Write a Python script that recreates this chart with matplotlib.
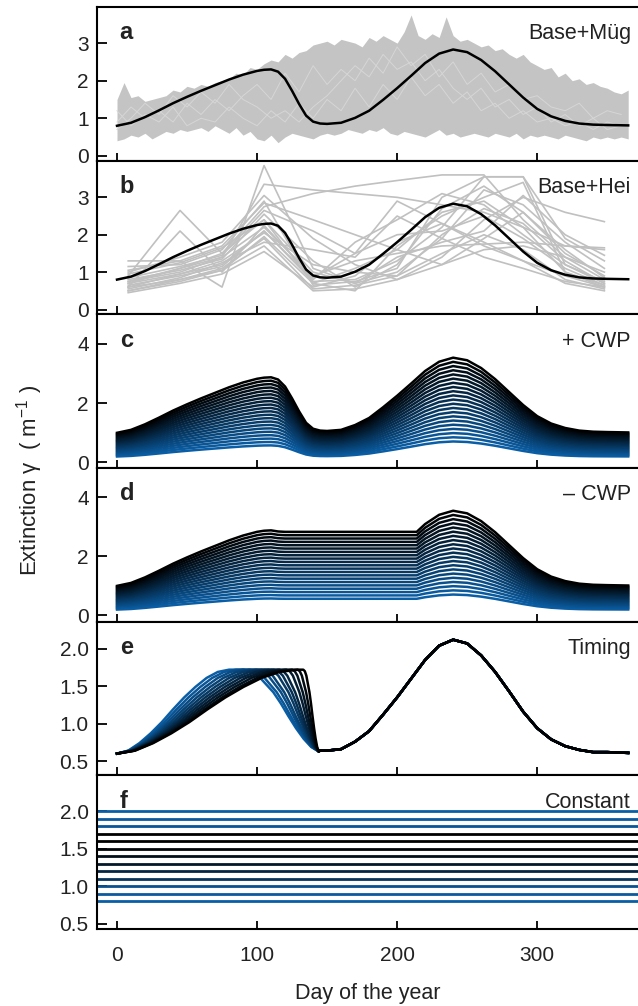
import numpy as np
import matplotlib.pyplot as plt

plt.rcParams['font.family'] = ['Liberation Sans', 'DejaVu Sans']
plt.rcParams['mathtext.fontset'] = 'custom'
plt.rcParams['mathtext.rm'] = 'Liberation Sans'
plt.rcParams['mathtext.default'] = 'regular'

# base extinction curve (black line in a and b)
base_days = [0, 10, 20, 30, 40, 50, 60, 70, 80, 90, 100, 105, 110, 115, 120, 125, 130, 135, 140,
             145, 150, 160, 170, 180, 190, 200, 210, 220, 230, 240, 250, 260, 270, 280, 290, 300,
             310, 320, 330, 340, 350, 365]
base_vals = [0.80, 0.88, 1.03, 1.21, 1.40, 1.57, 1.73, 1.88, 2.03, 2.16, 2.26, 2.29, 2.30, 2.24,
             2.05, 1.73, 1.38, 1.07, 0.91, 0.86, 0.85, 0.88, 1.01, 1.20, 1.49, 1.80, 2.13, 2.47,
             2.72, 2.83, 2.76, 2.55, 2.25, 1.90, 1.55, 1.25, 1.05, 0.93, 0.86, 0.83, 0.82, 0.81]

# base curve with the spring dip removed (panel d)
flat_days = [0, 10, 20, 30, 40, 50, 60, 70, 80, 90, 100, 105, 110, 115, 120, 214, 220, 230, 240,
             250, 260, 270, 280, 290, 300, 310, 320, 330, 340, 350, 365]
flat_vals = [0.80, 0.88, 1.03, 1.21, 1.40, 1.57, 1.73, 1.88, 2.03, 2.16, 2.26, 2.29, 2.30, 2.27,
             2.26, 2.26, 2.47, 2.72, 2.83, 2.76, 2.55, 2.25, 1.90, 1.55, 1.25, 1.05, 0.93, 0.86,
             0.83, 0.82, 0.81]

# scale factors for the +CWP / -CWP ensembles
cwp_factors = [0.25, 0.30, 0.35, 0.40, 0.45, 0.50, 0.55, 0.60, 0.65, 0.70, 0.75, 0.80, 0.85,
               0.90, 0.95, 1.00, 1.05, 1.10, 1.15, 1.20, 1.25]

# Mueggelsee envelope of daily series (panel a), every 5 days
mug_days = list(range(0, 365, 5)) + [365]
mug_upper = [1.50, 1.95, 1.55, 1.60, 1.45, 1.50, 1.55, 1.60, 1.75, 1.70, 1.85,
             1.80, 1.90, 1.85, 1.95, 2.00, 2.05, 2.20, 2.15, 2.35, 2.30,
             2.45, 2.55, 2.50, 2.70, 2.60, 2.75, 2.80, 2.95, 3.00, 3.05,
             2.95, 3.10, 3.05, 3.00, 2.90, 3.15, 3.05, 3.20, 3.10, 3.00,
             3.30, 3.75, 3.20, 3.10, 3.25, 3.15, 3.70, 3.20, 3.05, 3.10,
             3.00, 2.90, 2.95, 2.80, 2.85, 2.70, 2.60, 2.70, 2.50, 2.40,
             2.30, 2.35, 2.10, 2.20, 2.00, 2.05, 1.90, 1.95, 1.85, 1.80, 1.70, 1.65, 1.75]
mug_lower = [0.40, 0.45, 0.55, 0.50, 0.60, 0.45, 0.55, 0.65, 0.60, 0.70, 0.65,
             0.70, 0.75, 0.65, 0.80, 0.70, 0.60, 0.75, 0.55, 0.65, 0.45,
             0.40, 0.55, 0.35, 0.50, 0.60, 0.55, 0.50, 0.45, 0.55, 0.60,
             0.55, 0.60, 0.70, 0.65, 0.60, 0.70, 0.65, 0.75, 0.60, 0.55,
             0.65, 0.60, 0.55, 0.50, 0.60, 0.70, 0.55, 0.60, 0.50, 0.55,
             0.60, 0.55, 0.50, 0.60, 0.55, 0.50, 0.60, 0.45, 0.55, 0.50,
             0.55, 0.50, 0.45, 0.55, 0.50, 0.45, 0.40, 0.50, 0.45, 0.50, 0.45, 0.50, 0.45]
# a few individual daily series that show through the envelope (every 10 days)
mug_line_days = list(range(0, 370, 10))
mug_lines = [
    [0.9, 1.3, 1.0, 1.2, 0.9, 1.4, 1.1, 1.5, 1.2, 1.6, 1.9, 1.5, 2.2, 1.7, 2.4, 1.9, 2.3, 2.0,
     2.6, 2.2, 2.9, 2.4, 2.7, 2.1, 2.5, 1.9, 2.2, 1.7, 1.9, 1.5, 1.6, 1.3, 1.2, 1.4, 1.0, 1.2, 1.1],
    [1.2, 0.8, 1.1, 0.9, 1.3, 0.8, 1.0, 0.9, 1.3, 1.0, 0.8, 1.2, 0.9, 1.4, 1.0, 1.5, 1.2, 1.8,
     1.3, 1.9, 1.5, 2.1, 1.6, 1.9, 1.4, 1.7, 1.2, 1.4, 1.0, 1.2, 0.9, 1.0, 0.8, 0.9, 0.7, 0.9, 0.8],
    [0.7, 1.0, 1.4, 1.1, 1.6, 1.3, 1.7, 1.4, 1.9, 1.5, 1.3, 1.0, 1.2, 0.9, 1.3, 1.6, 2.0, 2.4,
     2.1, 2.7, 2.3, 2.5, 2.0, 2.3, 1.8, 1.5, 1.8, 1.3, 1.5, 1.1, 1.3, 0.9, 1.1, 0.8, 1.0, 0.7, 0.8],
]

# Heiligensee sampled series (panel b)
hei_days = [8, 45, 75, 105, 140, 170, 200, 232, 262, 290, 320, 348]
hei_series = [
    [0.60, 0.95, 1.20, 2.10, 0.75, 0.80, 1.30, 2.20, 3.55, 3.55, 1.20, 0.70],
    [0.90, 2.65, 1.50, 2.40, 0.70, 1.10, 1.60, 2.60, 2.90, 2.20, 1.00, 0.60],
    [1.30, 1.30, 0.60, 3.85, 1.10, 0.70, 1.00, 1.90, 3.20, 2.80, 1.80, 1.10],
    [0.50, 0.80, 1.10, 1.90, 0.55, 0.65, 0.90, 1.50, 2.00, 1.60, 0.80, 0.55],
    [0.70, 1.10, 1.50, 2.75, 3.10, 3.30, 3.45, 3.60, 3.60, 2.40, 1.40, 0.80],
    [1.00, 1.40, 1.80, 3.05, 1.90, 1.20, 0.80, 1.40, 2.40, 3.00, 2.60, 2.35],
    [0.45, 0.70, 0.95, 1.55, 0.60, 0.90, 1.80, 2.30, 1.80, 1.30, 0.70, 0.50],
    [0.80, 1.05, 1.35, 2.55, 1.30, 0.60, 1.20, 2.70, 3.30, 2.60, 1.50, 0.90],
    [0.60, 2.10, 1.00, 2.25, 0.85, 1.50, 2.00, 2.10, 2.50, 1.90, 1.10, 0.65],
    [1.15, 1.20, 1.60, 2.90, 0.65, 0.75, 1.10, 3.00, 3.55, 3.55, 1.90, 1.30],
    [0.55, 0.85, 1.25, 1.80, 1.60, 1.40, 2.50, 1.90, 1.40, 1.10, 0.75, 0.60],
    [0.75, 1.00, 1.40, 3.35, 3.20, 3.10, 3.00, 2.80, 2.60, 2.20, 1.70, 1.65],
    [0.65, 0.90, 1.15, 2.10, 0.80, 1.80, 2.40, 3.10, 2.80, 2.00, 1.20, 0.75],
    [0.85, 1.15, 1.45, 2.65, 2.10, 1.50, 2.90, 2.30, 1.70, 1.30, 0.90, 0.60],
    [0.50, 0.75, 1.05, 1.70, 0.50, 0.55, 0.80, 1.20, 1.60, 1.70, 1.40, 1.00],
    [0.95, 1.25, 1.65, 2.40, 1.00, 0.70, 1.40, 1.80, 2.10, 3.05, 2.00, 1.45],
    [0.70, 0.95, 1.30, 2.05, 1.20, 1.00, 0.90, 2.00, 2.70, 2.30, 1.30, 0.70],
    [0.60, 0.80, 1.05, 1.95, 0.70, 0.50, 1.70, 2.50, 3.00, 3.40, 1.00, 0.65],
    [1.05, 1.30, 1.70, 2.85, 2.40, 2.00, 1.60, 1.20, 1.90, 2.60, 1.60, 0.85],
    [0.75, 1.10, 1.40, 2.20, 0.90, 1.30, 1.50, 1.70, 1.75, 1.80, 1.70, 1.60],
]

# timing ensemble (panel e)
rise_frac = [0.0, 0.1, 0.2, 0.3, 0.4, 0.5, 0.6, 0.7, 0.8, 0.9, 1.0]
rise_vals = [0.60, 0.64, 0.74, 0.87, 1.02, 1.19, 1.35, 1.49, 1.61, 1.69, 1.72]
fall_frac = [0.0, 0.1, 0.2, 0.3, 0.4, 0.5, 0.6, 0.7, 0.8, 0.9, 1.0]
fall_vals = [1.72, 1.70, 1.64, 1.53, 1.42, 1.27, 1.10, 0.94, 0.80, 0.69, 0.63]
e_rise_end = [80, 85, 90, 95, 100, 105, 110, 115, 120, 125, 129]
e_fall_start = [90, 94, 99, 103, 108, 112, 116, 121, 125, 129, 133]
e_fall_end = 144
e_tail_days = [145, 150, 160, 170, 180, 190, 200, 210, 220, 230, 240, 250, 260, 270, 280,
               290, 300, 310, 320, 330, 340, 350, 365]
e_tail_vals = [0.64, 0.64, 0.66, 0.76, 0.90, 1.12, 1.35, 1.60, 1.85, 2.04, 2.12, 2.07, 1.91,
               1.69, 1.43, 1.16, 0.94, 0.79, 0.70, 0.65, 0.62, 0.62, 0.61]

# constant ensemble (panel f) and its colour position (0 blue, 1 black)
const_vals = [0.8, 0.9, 1.0, 1.1, 1.2, 1.3, 1.4, 1.5, 1.6, 1.7, 1.8, 1.9, 2.0]
const_shade = [0.0, 0.05, 0.15, 0.45, 0.6, 0.75, 0.85, 0.95, 1.0, 1.0, 0.1, 0.05, 0.0]

blue = np.array([0.04, 0.37, 0.65])
def shade(t):
    return tuple((1 - t) * blue)

fig, axes = plt.subplots(6, 1, figsize=(6.38, 10.06), dpi=100, sharex=True)
fig.subplots_adjust(left=0.152, right=1.0, top=0.993, bottom=0.0765, hspace=0)

# a
ax = axes[0]
ax.fill_between(mug_days, mug_lower, mug_upper, color='#c4c4c4', lw=0)
for s in mug_lines:
    ax.plot(mug_line_days, s, color='#d6d6d6', lw=0.7)
ax.plot(base_days, base_vals, color='k', lw=1.8)

# b
ax = axes[1]
for s in hei_series:
    ax.plot(hei_days, s, color='#c0c0c0', lw=1.2)
ax.plot(base_days, base_vals, color='k', lw=1.8)

# c, d
n = len(cwp_factors)
for i, fct in enumerate(cwp_factors):
    c = shade(i / (n - 1))
    axes[2].plot(base_days, np.array(base_vals) * fct, color=c, lw=1.8)
    axes[3].plot(flat_days, np.array(flat_vals) * fct, color=c, lw=1.8)

# e
m = len(e_rise_end)
for i in range(m):
    r0, f0 = e_rise_end[i], e_fall_start[i]
    xs = list(np.array(rise_frac) * r0) + list(f0 + np.array(fall_frac) * (e_fall_end - f0)) + e_tail_days
    ys = rise_vals + fall_vals + e_tail_vals
    axes[4].plot(xs, ys, color=shade(i / (m - 1)), lw=1.8)

# f
for v, t in zip(const_vals, const_shade):
    axes[5].plot([-20, 380], [v, v], color=shade(t), lw=2.0)

labels = ['a', 'b', 'c', 'd', 'e', 'f']
names = ['Base+Müg', 'Base+Hei', '+ CWP', '\u2013 CWP', 'Timing', 'Constant']
ylims = [(-0.13, 3.96), (-0.13, 3.98), (-0.19, 5.0), (-0.21, 4.98), (0.31, 2.36), (0.43, 2.48)]
yticks = [[0, 1, 2, 3], [0, 1, 2, 3], [0, 2, 4], [0, 2, 4],
          [0.5, 1.0, 1.5, 2.0], [0.5, 1.0, 1.5, 2.0]]

for k, ax in enumerate(axes):
    ax.set_xlim(-14.3, 372)
    ax.set_ylim(*ylims[k])
    ax.set_yticks(yticks[k])
    if k >= 4:
        ax.set_yticklabels(['%.1f' % t for t in yticks[k]])
    ax.set_xticks([0, 100, 200, 300])
    ax.tick_params(direction='in', length=6, width=1.3, labelsize=15, colors='k',
                   labelcolor='#222222')
    ax.tick_params(axis='y', length=7, pad=6)
    ax.tick_params(axis='x', pad=12)
    for sp in ['left', 'top', 'bottom']:
        ax.spines[sp].set_linewidth(1.5)
    ax.spines['right'].set_visible(False)
    ax.text(0.042, 0.79, labels[k], transform=ax.transAxes, fontsize=17, fontweight='bold',
            color='#222222', va='baseline', ha='left')
    ax.text(0.987, 0.79, names[k], transform=ax.transAxes, fontsize=15.5,
            color='#222222', va='baseline', ha='right')

axes[5].set_xlabel('Day of the year', fontsize=15.5, color='#222222', labelpad=13)
fig.text(0.047, 0.522, 'Extinction \u03b3  ( m$^{-1}$ )', rotation=90, fontsize=16,
         color='#222222', va='center', ha='center')

fig.savefig('out.png', dpi=100)
